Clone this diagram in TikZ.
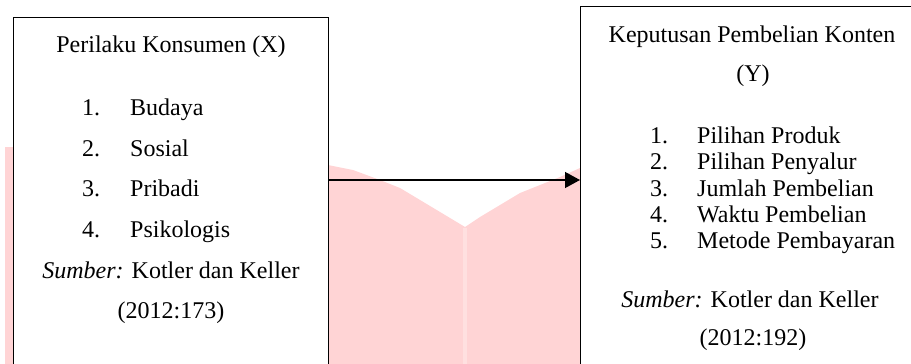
\documentclass[tikz,border=0pt]{standalone}
\usepackage{fontspec}
\setmainfont{Liberation Serif}
\usetikzlibrary{arrows.meta}
\definecolor{wm}{RGB}{255,212,213}
\definecolor{wmlight}{RGB}{255,224,224}
\begin{document}
\begin{tikzpicture}[x=1pt,y=-1pt,
  txt/.style={inner sep=0pt, anchor=base, font=\fontsize{24}{28}\selectfont},
  txtl/.style={txt, anchor=base west},
  boxnode/.style={draw=black, fill=white, line width=1.4pt, inner sep=0pt, anchor=north west},
  conn/.style={line width=1.3pt, -{Triangle[length=15pt,width=16pt]}}]
\useasboundingbox (0,0) rectangle (911,364);
\clip (0,0) rectangle (911,364);
% watermark
\fill[wm] (5,147) -- (328,147) -- (328,165) -- (353,170) -- (380,180) -- (400,188) -- (420,200)
  -- (440,212) -- (465,227) -- (480,217) -- (500,205) -- (520,193) -- (540,185) -- (560,177)
  -- (580,168) -- (580,147) -- (911,147) -- (911,364) -- (5,364) -- cycle;
\fill[wmlight] (463,228) rectangle (467,364);
% boxes
\node[boxnode, minimum width=315pt, minimum height=400pt] (kx) at (13,17) {};
\node[boxnode, minimum width=400pt, minimum height=400pt] (ky) at (580,6) {};
% left texts
\node[txt] (tx) at (171,52) {Perilaku Konsumen (X)};
\node[txtl] (n1) at (82,115) {1.};
\node[txtl] (i1) at (130,115) {Budaya};
\node[txtl] (n2) at (82,156) {2.};
\node[txtl] (i2) at (130,156) {Sosial};
\node[txtl] (n3) at (82,196) {3.};
\node[txtl] (i3) at (130,196) {Pribadi};
\node[txtl] (n4) at (82,237) {4.};
\node[txtl] (i4) at (130,237) {Psikologis};
\node[txt] (sx) at (171,278) {{\itshape Sumber:} Kotler dan Keller};
\node[txt] (yx) at (171,318) {(2012:173)};
% right texts
\node[txt] (ty1) at (752,42) {Keputusan Pembelian Konten};
\node[txt] (ty2) at (753,81) {(Y)};
\node[txtl] (m1) at (650,143) {1.};
\node[txtl] (j1) at (697,143) {Pilihan Produk};
\node[txtl] (m2) at (650,169) {2.};
\node[txtl] (j2) at (697,169) {Pilihan Penyalur};
\node[txtl] (m3) at (650,196) {3.};
\node[txtl] (j3) at (697,196) {Jumlah Pembelian};
\node[txtl] (m4) at (650,222) {4.};
\node[txtl] (j4) at (697,222) {Waktu Pembelian};
\node[txtl] (m5) at (650,248) {5.};
\node[txtl] (j5) at (697,248) {Metode Pembayaran};
\node[txt] (sy) at (750,307) {{\itshape Sumber:} Kotler dan Keller};
\node[txt] (yy) at (753,345) {(2012:192)};
% connector
\coordinate (ar) at (0,180);
\draw[conn] (kx.east |- ar) -- (ky.west |- ar);
\end{tikzpicture}
\end{document}
